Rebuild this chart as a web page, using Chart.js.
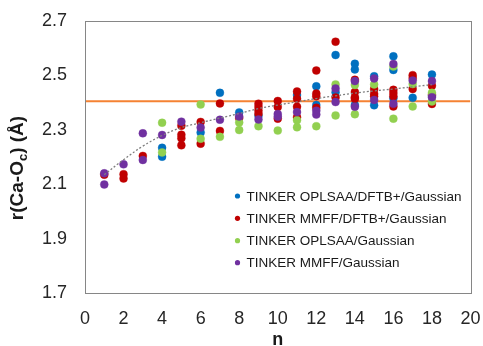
<!DOCTYPE html>
<html>
<head>
<meta charset="utf-8">
<script src="https://cdn.jsdelivr.net/npm/chart.js@4/dist/chart.umd.min.js"></script>
<style>
  html, body { margin: 0; padding: 0; background: #fff; }
  #box { width: 483px; height: 346px; }
</style>
</head>
<body>
<div id="box"><canvas id="myChart"></canvas></div>
<script>
// series labels
const seriesNames = ['TINKER OPLSAA/DFTB+/Gaussian', 'TINKER MMFF/DFTB+/Gaussian', 'TINKER OPLSAA/Gaussian', 'TINKER MMFF/Gaussian'];

// TINKER OPLSAA/DFTB+/Gaussian
const nBlue = [4, 4, 6, 7, 8, 9, 11, 12, 12, 13, 13, 14, 14, 14, 15, 15, 16, 16, 16, 17, 18, 18];
const rBlue = [2.234, 2.201, 2.290, 2.436, 2.364, 2.352, 2.428, 2.460, 2.391, 2.575, 2.438, 2.543, 2.522, 2.391, 2.497, 2.390, 2.570, 2.520, 2.416, 2.418, 2.503, 2.425];

// TINKER MMFF/DFTB+/Gaussian
const nRed = [1, 2, 2, 3, 5, 5, 5, 5, 6, 6, 7, 7, 8, 9, 9, 9, 9, 10, 10, 10, 11, 11, 11, 11, 12, 12, 12, 12, 13, 13, 14, 14, 14, 14, 15, 15, 15, 16, 16, 16, 16, 17, 17, 17, 18, 18, 18];
const rRed = [2.135, 2.137, 2.121, 2.204, 2.315, 2.282, 2.269, 2.243, 2.329, 2.249, 2.397, 2.296, 2.343, 2.396, 2.384, 2.371, 2.359, 2.406, 2.384, 2.341, 2.441, 2.414, 2.385, 2.346, 2.518, 2.433, 2.423, 2.381, 2.624, 2.419, 2.484, 2.439, 2.420, 2.414, 2.450, 2.432, 2.423, 2.447, 2.435, 2.423, 2.386, 2.501, 2.490, 2.450, 2.462, 2.429, 2.395];

// TINKER OPLSAA/Gaussian
const nGreen = [4, 4, 6, 6, 7, 8, 8, 9, 10, 11, 11, 12, 13, 13, 14, 14, 15, 16, 16, 17, 17, 18, 18];
const rGreen = [2.326, 2.217, 2.393, 2.267, 2.274, 2.327, 2.299, 2.313, 2.297, 2.335, 2.309, 2.313, 2.467, 2.353, 2.465, 2.357, 2.467, 2.533, 2.341, 2.468, 2.386, 2.436, 2.404];

// TINKER MMFF/Gaussian
const nPurple = [1, 1, 2, 3, 3, 4, 5, 6, 7, 8, 9, 10, 10, 11, 12, 12, 13, 13, 14, 14, 15, 15, 16, 16, 17, 18, 18];
const rPurple = [2.140, 2.099, 2.173, 2.287, 2.189, 2.281, 2.330, 2.308, 2.337, 2.349, 2.338, 2.358, 2.348, 2.365, 2.370, 2.356, 2.452, 2.402, 2.479, 2.385, 2.489, 2.410, 2.542, 2.396, 2.481, 2.479, 2.420];

// dotted trend line
const nTrend = [1, 2, 3, 4, 5, 6, 7, 8, 9, 10, 11, 12, 13, 14, 15, 16, 17, 18];
const rTrend = [2.135, 2.190, 2.240, 2.279, 2.308, 2.326, 2.343, 2.360, 2.378, 2.391, 2.403, 2.415, 2.425, 2.435, 2.443, 2.450, 2.458, 2.466];

// orange reference line
const nRef = [0, 20];
const rRef = [2.405, 2.405];

const xTicks = [0, 2, 4, 6, 8, 10, 12, 14, 16, 18, 20];
const yTicks = [1.7, 1.9, 2.1, 2.3, 2.5, 2.7];

const colors = ['#0070C0', '#C00000', '#92D050', '#7030A0'];

function pts(xs, ys) {
    return xs.map((x, i) => ({ x: x, y: ys[i] }));
}

const FONT = "'Liberation Sans', Arial, sans-serif";

// box around plot, axis titles, legend
const decorations = {
    id: 'decorations',
    afterDraw(chart) {
        const ctx = chart.ctx;
        const a = chart.chartArea;
        ctx.save();
        ctx.strokeStyle = '#868686';
        ctx.lineWidth = 1;
        ctx.strokeRect(Math.round(a.left) + 0.5, Math.round(a.top) + 0.5, Math.round(a.right - a.left), Math.round(a.bottom - a.top));

        // x title
        ctx.fillStyle = '#1a1a1a';
        ctx.font = 'bold 18px ' + FONT;
        ctx.textAlign = 'center';
        ctx.textBaseline = 'alphabetic';
        ctx.fillText('n', (a.left + a.right) / 2, 345);

        // y title with subscript
        ctx.translate(23, 168);
        ctx.rotate(-Math.PI / 2);
        const p1 = 'r(Ca-O', sub = 'c', p2 = ') (Å)';
        ctx.font = 'bold 19px ' + FONT;
        const w1 = ctx.measureText(p1).width;
        const w3 = ctx.measureText(p2).width;
        ctx.font = 'bold 13px ' + FONT;
        const w2 = ctx.measureText(sub).width;
        let x0 = -(w1 + w2 + w3) / 2;
        ctx.textAlign = 'left';
        ctx.font = 'bold 19px ' + FONT;
        ctx.fillText(p1, x0, 0);
        ctx.font = 'bold 13px ' + FONT;
        ctx.fillText(sub, x0 + w1, 4);
        ctx.font = 'bold 19px ' + FONT;
        ctx.fillText(p2, x0 + w1 + w2, 0);
        ctx.setTransform(1, 0, 0, 1, 0, 0);

        // legend
        const rows = [196, 218.3, 240.7, 262.7];
        ctx.font = '13.5px ' + FONT;
        ctx.textBaseline = 'middle';
        seriesNames.forEach((name, i) => {
            ctx.fillStyle = colors[i];
            ctx.beginPath();
            ctx.arc(237.5, rows[i], 2.6, 0, Math.PI * 2);
            ctx.fill();
            ctx.fillStyle = '#1a1a1a';
            ctx.fillText(name, 246.5, rows[i] + 1);
        });
        ctx.restore();
    }
};

const ctx = document.getElementById('myChart');
const myChart = new Chart(ctx, {
    type: 'scatter',
    data: {
        datasets: [
            { label: seriesNames[0], data: pts(nBlue, rBlue), backgroundColor: colors[0], borderColor: 'rgba(0,112,192,0.35)', borderWidth: 1, pointRadius: 4, order: 4 },
            { label: seriesNames[1], data: pts(nRed, rRed), backgroundColor: colors[1], borderColor: 'rgba(192,0,0,0.35)', borderWidth: 1, pointRadius: 4, order: 3 },
            { label: seriesNames[2], data: pts(nGreen, rGreen), backgroundColor: colors[2], borderColor: 'rgba(146,208,80,0.35)', borderWidth: 1, pointRadius: 4, order: 2 },
            { label: seriesNames[3], data: pts(nPurple, rPurple), backgroundColor: colors[3], borderColor: 'rgba(112,48,160,0.35)', borderWidth: 1, pointRadius: 4, order: 1 },
            { label: 'trend', data: pts(nTrend, rTrend), showLine: true, borderColor: '#7f7f7f', borderWidth: 1.3, borderDash: [2, 2], pointRadius: 0, tension: 0.4, order: 0 },
            { label: 'ref', data: pts(nRef, rRef), showLine: true, borderColor: '#F58233', borderWidth: 2, pointRadius: 0, order: 6 }
        ]
    },
    options: {
        responsive: true,
        maintainAspectRatio: false,
        animation: false,
        events: [],
        layout: { padding: { top: 21, right: 12.5, bottom: 0, left: 0 } },
        plugins: {
            legend: { display: false },
            tooltip: { enabled: false }
        },
        scales: {
            x: {
                type: 'linear',
                min: 0,
                max: 20,
                afterBuildTicks: (s) => { s.ticks = xTicks.map(v => ({ value: v })); },
                afterFit: (s) => { s.height = 53; s.paddingLeft = 0; s.paddingRight = 0; },
                grid: { display: false, drawTicks: false },
                border: { display: false },
                ticks: {
                    padding: 15,
                    color: '#262626',
                    font: { family: FONT, size: 18 },
                    maxRotation: 0
                }
            },
            y: {
                type: 'linear',
                min: 1.7,
                max: 2.7,
                afterBuildTicks: (s) => { s.ticks = yTicks.map(v => ({ value: v })); },
                afterFit: (s) => { s.width = 85; s.paddingTop = 0; s.paddingBottom = 0; },
                grid: { display: false, drawTicks: false },
                border: { display: false },
                ticks: {
                    padding: 18,
                    color: '#262626',
                    font: { family: FONT, size: 18 },
                    callback: (v) => v.toFixed(1)
                }
            }
        }
    },
    plugins: [decorations]
});
</script>
</body>
</html>
